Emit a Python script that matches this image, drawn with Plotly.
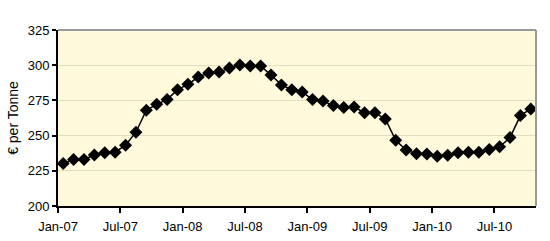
import plotly.graph_objects as go

months = ["Jan-07","Feb-07","Mar-07","Apr-07","May-07","Jun-07","Jul-07","Aug-07","Sep-07","Oct-07","Nov-07","Dec-07",
          "Jan-08","Feb-08","Mar-08","Apr-08","May-08","Jun-08","Jul-08","Aug-08","Sep-08","Oct-08","Nov-08","Dec-08",
          "Jan-09","Feb-09","Mar-09","Apr-09","May-09","Jun-09","Jul-09","Aug-09","Sep-09","Oct-09","Nov-09","Dec-09",
          "Jan-10","Feb-10","Mar-10","Apr-10","May-10","Jun-10","Jul-10","Aug-10","Sep-10","Oct-10"]
prices = [230.2, 233.1, 233.0, 236.3, 237.8, 238.2, 243.2, 252.4, 268.0, 272.2, 275.6, 282.6,
          286.4, 291.6, 294.4, 295.1, 298.0, 300.1, 299.4, 299.4, 293.0, 286.0, 282.6, 281.0,
          275.6, 274.6, 271.3, 269.9, 270.3, 266.3, 266.3, 261.8, 246.7, 239.7, 237.1, 237.0,
          235.4, 236.1, 237.8, 238.2, 238.2, 240.1, 242.0, 248.6, 264.2, 268.9]
tick_labels = ["Jan-07","Jul-07","Jan-08","Jul-08","Jan-09","Jul-09","Jan-10","Jul-10"]
y_ticks = [200, 225, 250, 275, 300, 325]

idx = list(range(len(months)))
tick_pos = [months.index(t) - 0.5 for t in tick_labels]

font = dict(family="Liberation Sans, Arial, sans-serif", size=13, color="black")
title_font = dict(family="Liberation Sans, Arial, sans-serif", size=14, color="black")

fig = go.Figure(go.Scatter(
    x=idx, y=prices, mode="lines+markers",
    line=dict(color="black", width=1.5),
    marker=dict(symbol="diamond", size=10, color="black"),
    hovertext=months,
))

fig.update_layout(
    width=550, height=241,
    margin=dict(l=58, r=14, t=30, b=35),
    paper_bgcolor="white",
    plot_bgcolor="#FFFADC",
    showlegend=False,
    font=font,
    xaxis=dict(range=[-0.5, len(months) - 0.5], tickmode="array", tickvals=tick_pos, ticktext=tick_labels,
               showgrid=False, zeroline=False, showline=True, linecolor="black", linewidth=2,
               ticks="outside", ticklen=5, tickwidth=1.5, tickcolor="black", tickfont=font,
               ticklabelstandoff=2, automargin=False),
    yaxis=dict(range=[200, 325], tickmode="array", tickvals=y_ticks,
               showgrid=True, gridcolor="#E3DDC0", gridwidth=1, zeroline=False,
               showline=True, linecolor="black", linewidth=2,
               ticks="outside", ticklen=4, tickwidth=1.5, tickcolor="black", tickfont=font,
               automargin=False,
               title=dict(text="€ per Tonne", font=title_font, standoff=6)),
    shapes=[
        dict(type="line", xref="paper", yref="paper", x0=0, x1=1, y0=1, y1=1,
             line=dict(color="#9A9A9A", width=2), layer="above"),
        dict(type="line", xref="paper", yref="paper", x0=1, x1=1, y0=0, y1=1,
             line=dict(color="#9A9A9A", width=2), layer="above"),
    ],
)

fig.write_html("out.html")
